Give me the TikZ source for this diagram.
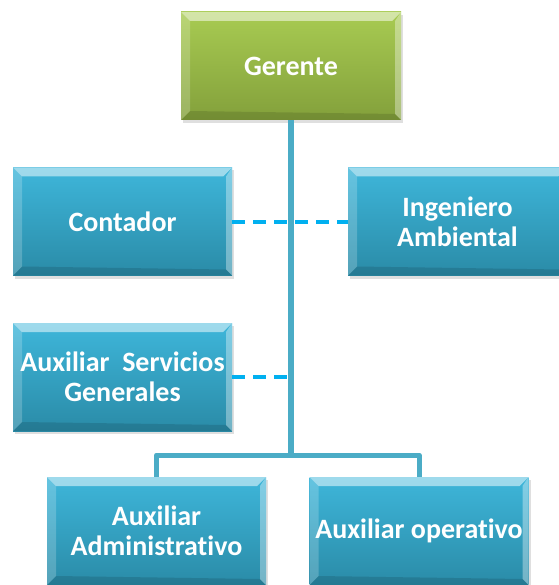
\documentclass[tikz,border=0pt]{standalone}
\usepackage{fontspec}
\setmainfont{Carlito}[Ligatures=NoCommon]
\usetikzlibrary{calc}
\usetikzlibrary{positioning}
\usetikzlibrary{shadows}

\definecolor{greentop}{HTML}{A8CB52}
\definecolor{greenbot}{HTML}{83A03B}
\definecolor{bluetop}{HTML}{3EB6DA}
\definecolor{bluebot}{HTML}{2A8BA7}
\definecolor{trunkline}{HTML}{4BACC6}
\definecolor{dashline}{HTML}{00B0F0}

\begin{document}
\begin{tikzpicture}[%
  x=1pt, y=-1pt,
  post/.style={
    minimum width=219pt, minimum height=108pt, inner sep=0pt,
    align=center, text=white, font=\bfseries\fontsize{28}{30}\selectfont,
    drop shadow={shadow xshift=2pt, shadow yshift=-3pt, opacity=0.25},
    path picture={
      \fill[white, opacity=0.5]
        (path picture bounding box.north west) -- (path picture bounding box.north east)
        -- ([shift={(-9pt,-9pt)}]path picture bounding box.north east)
        -- ([shift={(9pt,-9pt)}]path picture bounding box.north west) -- cycle;
      \fill[white, opacity=0.2]
        (path picture bounding box.north west) -- (path picture bounding box.south west)
        -- ([shift={(9pt,9pt)}]path picture bounding box.south west)
        -- ([shift={(9pt,-9pt)}]path picture bounding box.north west) -- cycle;
      \fill[white, opacity=0.35]
        (path picture bounding box.north east) -- (path picture bounding box.south east)
        -- ([shift={(-6pt,6pt)}]path picture bounding box.south east)
        -- ([shift={(-6pt,-9pt)}]path picture bounding box.north east) -- cycle;
      \fill[black, opacity=0.12]
        (path picture bounding box.south west) -- (path picture bounding box.south east)
        -- ([shift={(-6pt,6pt)}]path picture bounding box.south east)
        -- ([shift={(9pt,9pt)}]path picture bounding box.south west) -- cycle;
    }},
  bluepost/.style={post, top color=bluetop, bottom color=bluebot},
  greenpost/.style={post, top color=greentop, bottom color=greenbot},
  trunklink/.style={draw=trunkline, line width=6pt},
  branchlink/.style={draw=trunkline, line width=5pt, line join=round},
  dashlink/.style={draw=dashline, line width=4pt, dash pattern=on 13pt off 8pt},
]

  \useasboundingbox (0,0) rectangle (558,585);

  % posts
  \node[greenpost, minimum width=220pt] (ger) at (291,66) {Gerente};

  \node[bluepost] (cont) at (122.5,221.5) {Contador};
  \node[bluepost] (ing) at (457.5,221.5) {Ingeniero\\Ambiental};

  \node[bluepost] (asg) at (122.5,377) {Auxiliar\ \ Servicios\\Generales};

  \node[bluepost] (aadm) at (156.5,531) {Auxiliar\\Administrativo};
  \node[bluepost] (aop) at (419,531) {Auxiliar operativo};

  % links
  \coordinate (split) at (ger.south |- 0,455);

  \draw[dashlink] (cont.east) -- (ing.west);
  \draw[dashlink] (asg.east) -- (asg.east -| ger.south);

  \draw[trunklink] (ger.south) -- (split);
  \draw[branchlink] (aadm.north) |- (split) -| (aop.north);

\end{tikzpicture}
\end{document}
